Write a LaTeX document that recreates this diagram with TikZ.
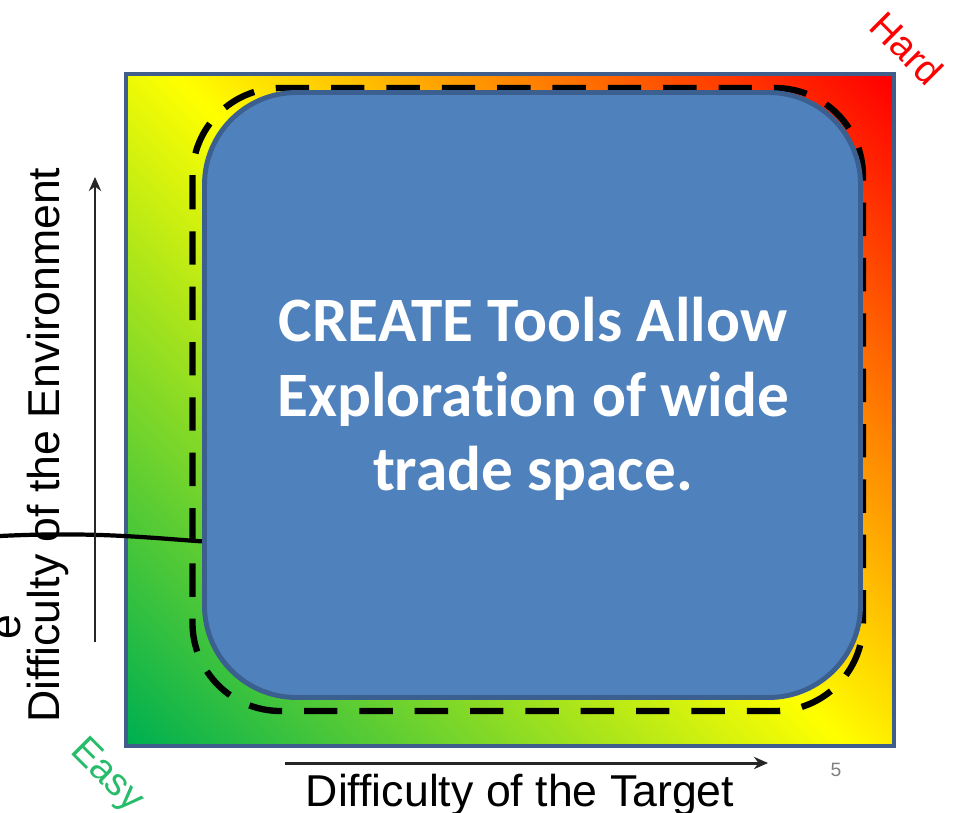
\documentclass[tikz,border=0pt]{standalone}
\usepackage{fontspec}
\setmainfont{Liberation Sans}
\newfontfamily\calloutfont[Ligatures=NoCommon]{Carlito}
\usetikzlibrary{arrows.meta}
\definecolor{tsGreen}{HTML}{00B050}
\definecolor{tsYellow}{HTML}{FFFF00}
\definecolor{tsRed}{HTML}{FF0000}
\definecolor{tsFrame}{HTML}{3F5E8C}
\definecolor{tsBlue}{HTML}{4F81BD}
\definecolor{tsBlueD}{HTML}{3B5F8E}

\begin{document}
\begin{tikzpicture}[
  x=0.02cm, y=-0.02cm,
  every node/.style={inner sep=0pt},
  spaceshade/.style={
    left color=tsGreen, right color=tsRed, middle color=tsYellow,
    shading angle=135
  },
  spaceframe/.style={draw=tsFrame, line width=2.3pt},
  zone/.style={
    draw=black, line width=3.6pt, rounded corners=1.76cm,
    dash pattern=on 19pt off 12.5pt
  },
  callout/.style={
    draw=tsBlueD, fill=tsBlue, line width=2.8pt, rounded corners=1.84cm
  },
  callouttext/.style={
    text=white, align=center,
    font=\calloutfont\bfseries\fontsize{36}{42.5}\selectfont
  },
  axisarrow/.style={-{Stealth[length=8pt,width=7pt]}, line width=1.7pt, draw=black!85},
  axislabel/.style={anchor=base, font=\fontsize{25.4}{28}\selectfont},
  corner/.style={rotate=-45, font=\fontsize{22}{24}\selectfont}
]
 % Page size
 \useasboundingbox (0,0) rectangle (953,812);

 % Shaded trade space (ramp stretched towards the corners)
 \begin{scope}
  \clip (126,74) rectangle (894,746);
  \shade[spaceshade] (-28,-60) rectangle (1048,880);
 \end{scope}
 \draw[spaceframe] (126,74) rectangle (894,746);

 % Stray curve on the left
 \coordinate (cstart) at (0,536);
 \coordinate (cend) at (212,542);
 \draw[line width=2.4pt] (cstart) .. controls (100,531) and (160,539) .. (cend);

 % Explored region and callout
 \draw[zone] (192.5,88) rectangle (863,711);
 \draw[callout] (204.5,92.5) rectangle (860.5,697.5);
 \node[callouttext] (msg) at (533,399)
   {CREATE Tools Allow\\Exploration of wide\\trade space.};

 % Axes
 \coordinate (yfoot) at (95,642);
 \coordinate (ytip) at (95,177);
 \coordinate (xfoot) at (285,763);
 \coordinate (xtip) at (768,763);
 \draw[axisarrow] (yfoot) -- (ytip);
 \draw[axisarrow] (xfoot) -- (xtip);
 \node[axislabel, rotate=90] (ylab) at (59,445) {Difficulty of the Environment};
 \node[axislabel, rotate=90] (ghost) at (20,627) {e};
 \node[axislabel] (xlab) at (520,806) {Difficulty of the Target};

 % Corner tags
 \node[corner, text=tsRed] (hard) at (907,48) {Hard};
 \node[corner, text=tsGreen!85!white] (easy) at (106,776) {Easy};
 \node[font=\fontsize{11}{13}\selectfont, text=gray] (pg) at (836,770) {5};
\end{tikzpicture}
\end{document}
